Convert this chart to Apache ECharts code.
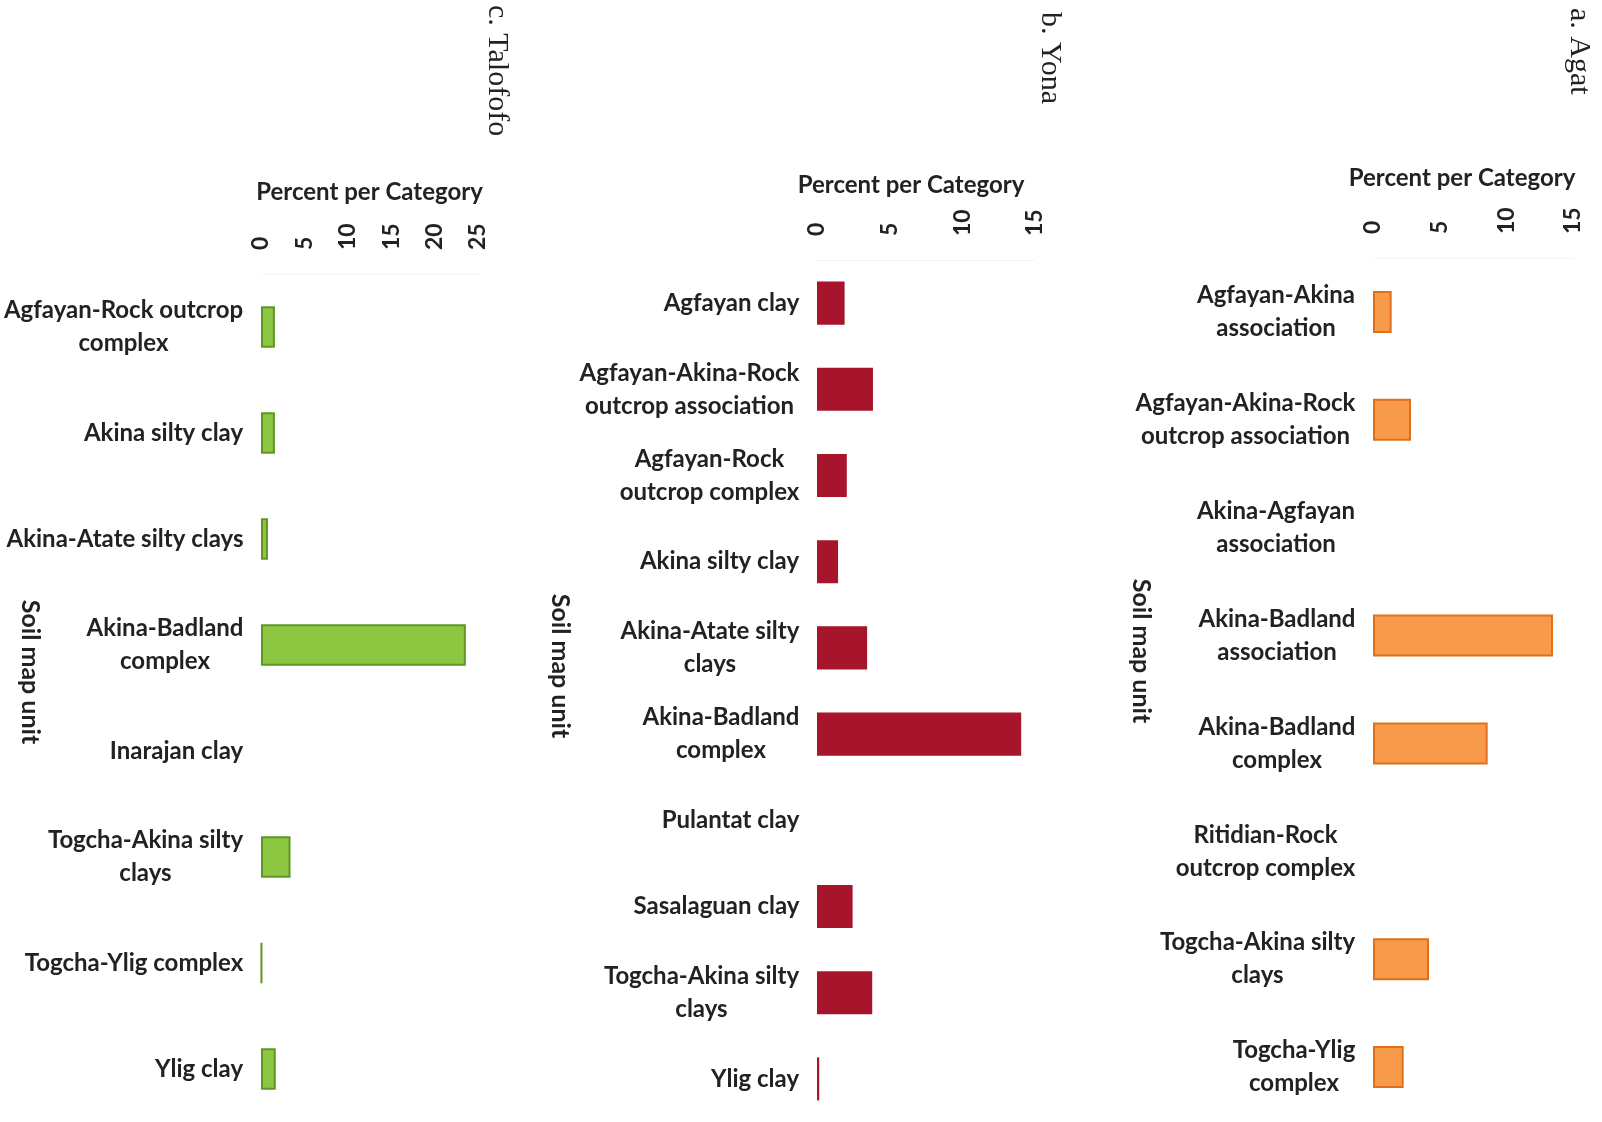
<!DOCTYPE html>
<html>
<head>
<meta charset="utf-8">
<script src="https://cdn.jsdelivr.net/npm/echarts/dist/echarts.min.js"></script>
<style>
  html, body { margin: 0; padding: 0; background: #ffffff; }
  #chart { width: 1602px; height: 1122px; }
</style>
</head>
<body>
<div id="chart"></div>
<script>
// Soil map units and their share (percent per category) in three watersheds
const agatUnits = [
  'Agfayan-Akina\nassociation',
  'Agfayan-Akina-Rock\noutcrop association',
  'Akina-Agfayan\nassociation',
  'Akina-Badland\nassociation',
  'Akina-Badland\ncomplex',
  'Ritidian-Rock\noutcrop complex',
  'Togcha-Akina silty\nclays',
  'Togcha-Ylig\ncomplex'
];
const agatPercent = [1.4, 2.85, 0, 13.5, 8.6, 0, 4.2, 2.3];

const yonaUnits = [
  'Agfayan clay',
  'Agfayan-Akina-Rock\noutcrop association',
  'Agfayan-Rock\noutcrop complex',
  'Akina silty clay',
  'Akina-Atate silty\nclays',
  'Akina-Badland\ncomplex',
  'Pulantat clay',
  'Sasalaguan clay',
  'Togcha-Akina silty\nclays',
  'Ylig clay'
];
const yonaPercent = [1.9, 3.85, 2.05, 1.45, 3.45, 14.05, 0, 2.45, 3.8, 0.15];

const talofofoUnits = [
  'Agfayan-Rock outcrop\ncomplex',
  'Akina silty clay',
  'Akina-Atate silty clays',
  'Akina-Badland\ncomplex',
  'Inarajan clay',
  'Togcha-Akina silty\nclays',
  'Togcha-Ylig complex',
  'Ylig clay'
];
const talofofoPercent = [1.6, 1.6, 0.8, 23.6, 0, 3.4, 0.1, 1.7];

// Percent axis ranges: [min, max, interval]
const agatScale = [0, 15, 5];
const yonaScale = [0, 15, 5];
const talofofoScale = [0, 25, 5];

const LABEL_FONT = 'Lato, "Open Sans", sans-serif';
const LABEL_WEIGHT = 'bold';
const TITLE_FONT = '"Liberation Serif", "DejaVu Serif", serif';
const TEXT = '#222222';
const LABEL_SIZE = 24;

// Multi-line category labels: each line centred, block right-aligned at the axis
function categoryLabels(units) {
  const ctx = document.createElement('canvas').getContext('2d');
  ctx.font = LABEL_WEIGHT + ' ' + LABEL_SIZE + 'px ' + LABEL_FONT;
  const rich = {};
  units.forEach((u, i) => {
    const w = Math.max(...u.split('\n').map(s => ctx.measureText(s).width));
    rich['r' + i] = {
      width: Math.ceil(w) + 1, align: 'center',
      fontSize: LABEL_SIZE, fontWeight: LABEL_WEIGHT, lineHeight: 33,
      fontFamily: LABEL_FONT, color: TEXT
    };
  });
  return {
    margin: 17,
    align: 'right',
    rich,
    formatter: (v, i) => v.split('\n').map(s => '{r' + i + '|' + s + '}').join('\n')
  };
}

function percentAxis(gridIndex, scale, nameGap, shift) {
  return {
    type: 'value', gridIndex, position: 'top',
    min: scale[0], max: scale[1], interval: scale[2],
    name: 'Percent per Category', nameLocation: 'middle', nameGap,
    nameTextStyle: {
      fontFamily: LABEL_FONT, fontWeight: LABEL_WEIGHT, fontSize: 24, color: TEXT,
      padding: [0, shift, 0, 0]
    },
    axisLine: { show: true, lineStyle: { color: '#f4f4f4', width: 1 } },
    axisTick: { show: false },
    splitLine: { show: false },
    axisLabel: {
      rotate: -90, margin: 24, fontFamily: LABEL_FONT, fontWeight: LABEL_WEIGHT,
      fontSize: 23, color: TEXT
    }
  };
}

function unitAxis(gridIndex, units) {
  return {
    type: 'category', gridIndex, inverse: true, data: units,
    axisLine: { show: false }, axisTick: { show: false }, splitLine: { show: false },
    axisLabel: categoryLabels(units)
  };
}

// Empty categories get no outline, so nothing is drawn for them
function barData(values) {
  return values.map(v => (v === 0 ? { value: v, itemStyle: { borderWidth: 0 } } : v));
}

function rotatedText(text, x, y, font, size, align, weight) {
  return {
    type: 'text', x, y, rotation: -Math.PI / 2,
    style: {
      text, font: (weight || 'normal') + ' ' + size + 'px ' + font,
      fill: TEXT, align, verticalAlign: 'middle'
    }
  };
}

const chart = echarts.init(document.getElementById('chart'), null, { renderer: 'canvas' });

chart.setOption({
  backgroundColor: '#ffffff',
  animation: false,
  grid: [
    { left: 1373, top: 258, width: 200, height: 863 },
    { left: 817, top: 260, width: 218, height: 863 },
    { left: 261, top: 274, width: 217, height: 853 }
  ],
  xAxis: [
    percentAxis(0, agatScale, 68, 22),
    percentAxis(1, yonaScale, 63, 30),
    percentAxis(2, talofofoScale, 70, 0)
  ],
  yAxis: [
    unitAxis(0, agatUnits),
    unitAxis(1, yonaUnits),
    unitAxis(2, talofofoUnits)
  ],
  series: [
    {
      type: 'bar', xAxisIndex: 0, yAxisIndex: 0, data: barData(agatPercent), barWidth: '39%',
      itemStyle: { color: '#F79A4A', borderColor: '#E0701A', borderWidth: 2 }
    },
    {
      type: 'bar', xAxisIndex: 1, yAxisIndex: 1, data: barData(yonaPercent), barWidth: '50%',
      itemStyle: { color: '#A6152B' }
    },
    {
      type: 'bar', xAxisIndex: 2, yAxisIndex: 2, data: barData(talofofoPercent), barWidth: '39%',
      itemStyle: { color: '#8DC641', borderColor: '#5F9624', borderWidth: 2 }
    }
  ],
  graphic: [
    rotatedText('a. Agat', 1579, 8, TITLE_FONT, 30, 'left'),
    rotatedText('b. Yona', 1050, 12, TITLE_FONT, 30, 'left'),
    rotatedText('c. Talofofo', 497, 5, TITLE_FONT, 30, 'left'),
    rotatedText('Soil map unit', 1141, 651, LABEL_FONT, 25, 'center', LABEL_WEIGHT),
    rotatedText('Soil map unit', 560, 666, LABEL_FONT, 25, 'center', LABEL_WEIGHT),
    rotatedText('Soil map unit', 30, 672, LABEL_FONT, 25, 'center', LABEL_WEIGHT)
  ]
});
</script>
</body>
</html>
